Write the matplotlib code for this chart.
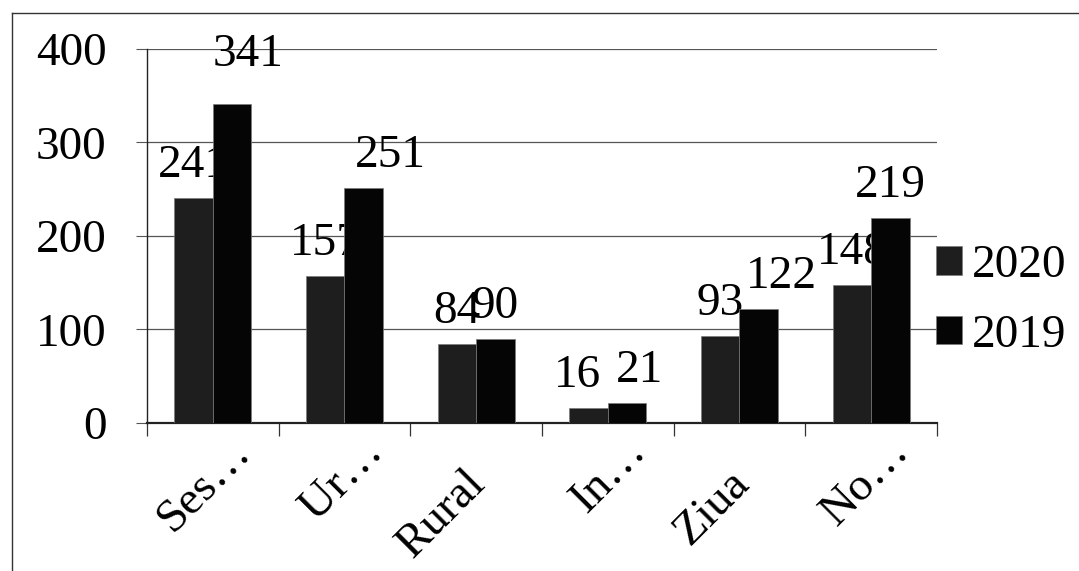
import numpy as np
import matplotlib
matplotlib.use('Agg')
import matplotlib.pyplot as plt
import matplotlib.transforms as mtransforms
from matplotlib.lines import Line2D

plt.rcParams['font.family'] = ['Liberation Serif', 'DejaVu Serif']

# ---- data ----
categories = ['Ses…', 'Ur…', 'Rural', 'In…', 'Ziua', 'No…']
series_names = ['2020', '2019']
vals_2020 = [241, 157, 84, 16, 93, 148]
vals_2019 = [341, 251, 90, 21, 122, 219]
yticks = [0, 100, 200, 300, 400]

# label nudges (points) where the original chart shifted them to avoid overlap
nudge = {('2019', 0): (11.5, 12), ('2019', 1): (19, 0), ('2019', 4): (16, 0),
         ('2020', 3): (-8, 0), ('2019', 3): (9, 0)}

FS = 34
fig = plt.figure(figsize=(10.79, 5.71), dpi=100)
ax = fig.add_axes([0.1362, 0.2592, 0.7322, 0.655])

x = np.arange(len(categories))
w = 0.292
b1 = ax.bar(x - w/2, vals_2020, w, color='#1e1e1e', edgecolor='#7a7a7a',
            linewidth=0.5, label=series_names[0], zorder=3)
b2 = ax.bar(x + w/2, vals_2019, w, color='#050505', edgecolor='#7a7a7a',
            linewidth=0.5, label=series_names[1], zorder=3)

for name, bars, vals in ((series_names[0], b1, vals_2020), (series_names[1], b2, vals_2019)):
    for i, (r, v) in enumerate(zip(bars, vals)):
        dx, dy = nudge.get((name, i), (0, 0))
        ax.annotate(str(v), (r.get_x() + r.get_width()/2, v), xytext=(dx, 8 + dy),
                    textcoords='offset points', ha='center', va='bottom',
                    fontsize=FS, color='black', zorder=2)

ax.set_xlim(-0.5, len(categories) - 0.5)
ax.set_ylim(0, 400)
ax.set_yticks(yticks)
ax.yaxis.grid(True, color='#555555', linewidth=0.9, zorder=0)
ax.set_axisbelow(True)
for s in ('top', 'right'):
    ax.spines[s].set_visible(False)
ax.spines['left'].set_color('#222222')
ax.spines['left'].set_linewidth(1.0)
ax.spines['bottom'].set_color('#222222')
ax.spines['bottom'].set_linewidth(1.6)
ax.tick_params(axis='y', length=8, width=0.8, color='#555555', pad=21, labelsize=FS)
ax.set_xticks(np.arange(-0.5, len(categories), 1))
ax.set_xticklabels([])
ax.tick_params(axis='x', length=9, width=0.9, color='#333333')

# rotated category labels, anchored at the end of the text (px offsets)
for i, lab in enumerate(categories):
    ox, oy = (40, -30) if lab.endswith('…') else (11, -62)
    tr = ax.get_xaxis_transform() + mtransforms.ScaledTranslation(
        ox/100, oy/100, fig.dpi_scale_trans)
    ax.text(i, 0, lab, rotation=45, rotation_mode='anchor', ha='right', va='baseline',
            fontsize=FS, transform=tr)

ax.legend(loc='center left', bbox_to_anchor=(0.999, 0.327), frameon=False,
          fontsize=FS, handlelength=0.55, handleheight=0.55, handletextpad=0.2,
          labelspacing=0.57, borderaxespad=0, borderpad=0)

# outer frame of the scanned chart
fig.add_artist(Line2D([12/1079, 12/1079], [0, 1 - 13/571], transform=fig.transFigure,
                      color='#333333', lw=1))
fig.add_artist(Line2D([12/1079, 1], [1 - 13/571, 1 - 13/571], transform=fig.transFigure,
                      color='#333333', lw=1))

fig.savefig('out.png', dpi=100)
